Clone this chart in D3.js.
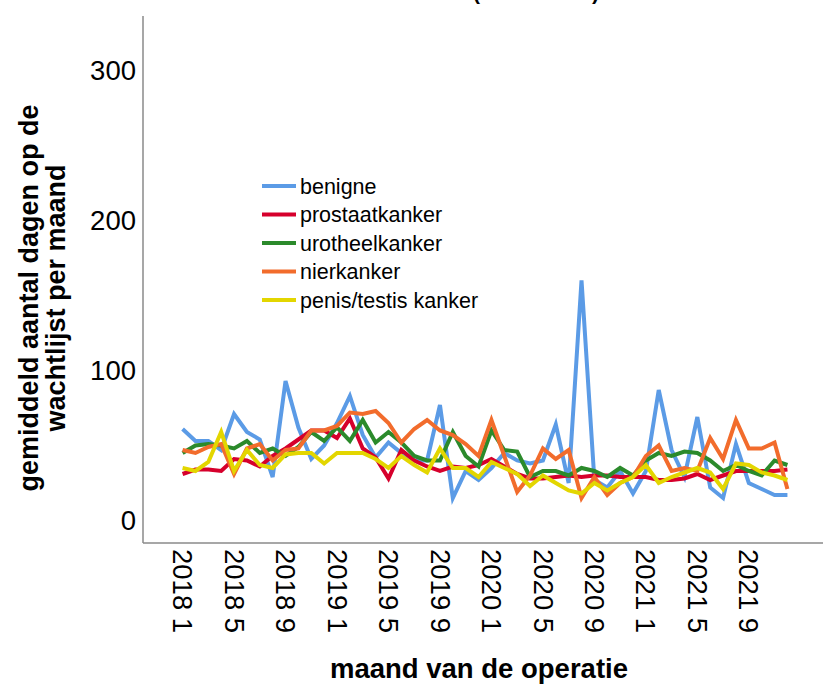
<!DOCTYPE html>
<html>
<head>
<meta charset="utf-8">
<script src="https://cdn.jsdelivr.net/npm/d3@7"></script>
<style>
    body { margin: 0; background: #fff; }
    svg { display: block; font-family: "Liberation Sans", Arial, sans-serif; }
</style>
</head>
<body>
<div id="chart"></div>
<script>
// months 2018 1 .. 2021 12
const years = [2018, 2019, 2020, 2021];
const months = years.flatMap(y => d3.range(1, 13).map(m => `${y} ${m}`));
const tickLabels = months.filter((d, i) => i % 4 === 0);

const seriesNames = ["benigne", "prostaatkanker", "urotheelkanker", "nierkanker", "penis/testis kanker"];
const seriesColors = ["#5b9be6", "#d6002c", "#2b8a2b", "#f26c2c", "#e3d600"];

const benigne = [61, 53, 53, 47, 71, 59, 54, 29, 93, 62, 41, 50, 65, 83, 57, 42, 52, 45, 40, 40, 77, 15, 33, 27, 35, 45, 40, 38, 40, 64, 25, 160, 27, 22, 33, 18, 33, 87, 47, 29, 69, 22, 15, 51, 25, 21, 17, 17];
const prostaat = [31, 34, 34, 33, 41, 40, 36, 43, 48, 54, 60, 60, 55, 68, 48, 42, 28, 47, 40, 36, 33, 36, 35, 37, 41, 36, 31, 28, 28, 29, 30, 29, 30, 30, 29, 29, 29, 27, 27, 28, 31, 27, 30, 33, 33, 33, 33, 34];
const urotheel = [45, 50, 51, 50, 48, 53, 45, 48, 43, 49, 59, 53, 62, 53, 67, 52, 59, 52, 43, 40, 40, 59, 43, 36, 60, 47, 46, 29, 33, 33, 30, 35, 33, 29, 35, 30, 40, 45, 43, 46, 45, 40, 33, 37, 33, 30, 40, 37];
const nier = [47, 45, 49, 51, 31, 48, 51, 40, 47, 48, 60, 60, 63, 72, 71, 73, 65, 52, 61, 67, 60, 57, 51, 43, 67, 43, 19, 30, 48, 41, 47, 15, 29, 17, 25, 29, 43, 50, 33, 35, 33, 55, 41, 67, 48, 48, 52, 21];
const penisTestis = [35, 33, 39, 59, 33, 47, 37, 35, 44, 45, 45, 38, 45, 45, 45, 41, 35, 43, 37, 32, 48, 35, 35, 29, 39, 35, 31, 23, 30, 25, 20, 18, 25, 20, 25, 29, 37, 25, 29, 32, 35, 32, 21, 38, 37, 32, 30, 27];

const yTicks = [0, 100, 200, 300];

const seriesValues = [benigne, prostaat, urotheel, nier, penisTestis];

const width = 823, height = 686;
const margin = { top: 16, right: 0, bottom: 143, left: 143 };
const innerWidth = width - margin.left - margin.right;
const innerHeight = height - margin.top - margin.bottom;
const axisColor = "#8a8a8a";
const tickFont = "27.5px";

const svg = d3.select("#chart").append("svg")
    .attr("width", width)
    .attr("height", height);

// title, mostly cut off at the top edge
svg.append("text")
    .attr("x", 473)
    .attr("y", 0)
    .style("font-size", "21px")
    .style("font-weight", "bold")
    .text("(2018 - 2021)");

const g = svg.append("g")
    .attr("transform", `translate(${margin.left}, ${margin.top})`);

const x = d3.scalePoint()
    .domain(months)
    .range([2, innerWidth + 2])
    .padding(2.92);

const y = d3.scaleLinear()
    .domain([-15, 336.3])
    .range([innerHeight, 0]);

// axes
const xAxis = g.append("g")
    .attr("transform", `translate(0, ${innerHeight})`)
    .call(d3.axisBottom(x).tickValues(tickLabels).tickSize(0).tickPadding(0));
xAxis.select(".domain").remove();
xAxis.selectAll("text")
    .attr("transform", "rotate(90)")
    .attr("x", 6)
    .attr("y", 0)
    .attr("dy", "0.36em")
    .style("text-anchor", "start")
    .style("font-size", tickFont)
    .style("font-family", "'Liberation Sans', Arial, sans-serif")
    .attr("fill", "#000");

const yAxis = g.append("g")
    .call(d3.axisLeft(y).tickValues(yTicks).tickSize(0).tickPadding(7));
yAxis.select(".domain").remove();
yAxis.selectAll("text")
    .style("font-size", tickFont)
    .style("font-family", "'Liberation Sans', Arial, sans-serif")
    .attr("fill", "#000");

g.append("line")
    .attr("x1", 0).attr("x2", 0)
    .attr("y1", 0).attr("y2", innerHeight)
    .attr("stroke", axisColor).attr("stroke-width", 1.5);
g.append("line")
    .attr("x1", 0).attr("x2", innerWidth)
    .attr("y1", innerHeight).attr("y2", innerHeight)
    .attr("stroke", axisColor).attr("stroke-width", 1.5);

// lines
const line = d3.line()
    .x((d, i) => x(months[i]))
    .y(d => y(d));

g.selectAll("path.series")
    .data(seriesValues)
    .join("path")
    .attr("class", "series")
    .attr("d", d => line(d))
    .attr("fill", "none")
    .attr("stroke", (d, i) => seriesColors[i])
    .attr("stroke-width", 4)
    .attr("stroke-linejoin", "miter");

// legend
const legend = svg.append("g")
    .attr("transform", "translate(262, 186)");
const rows = legend.selectAll("g")
    .data(seriesNames)
    .join("g")
    .attr("transform", (d, i) => `translate(0, ${i * 28.5})`);
rows.append("line")
    .attr("x1", 0).attr("x2", 34)
    .attr("stroke", (d, i) => seriesColors[i])
    .attr("stroke-width", 4);
rows.append("text")
    .attr("x", 38)
    .attr("dy", "0.35em")
    .style("font-size", "21.5px")
    .text(d => d);

// axis titles
svg.append("text")
    .attr("x", margin.left + innerWidth / 2 - 4)
    .attr("y", 678)
    .attr("text-anchor", "middle")
    .style("font-size", "27.5px")
    .style("font-weight", "bold")
    .text("maand van de operatie");

const yTitle = svg.append("text")
    .attr("transform", "translate(38, 298) rotate(-90)")
    .attr("text-anchor", "middle")
    .style("font-size", "27px")
    .style("font-weight", "bold");
yTitle.append("tspan").attr("x", 0).attr("dy", 0).text("gemiddeld aantal dagen op de");
yTitle.append("tspan").attr("x", 0).attr("dy", 27).text("wachtlijst per maand");
</script>
</body>
</html>
